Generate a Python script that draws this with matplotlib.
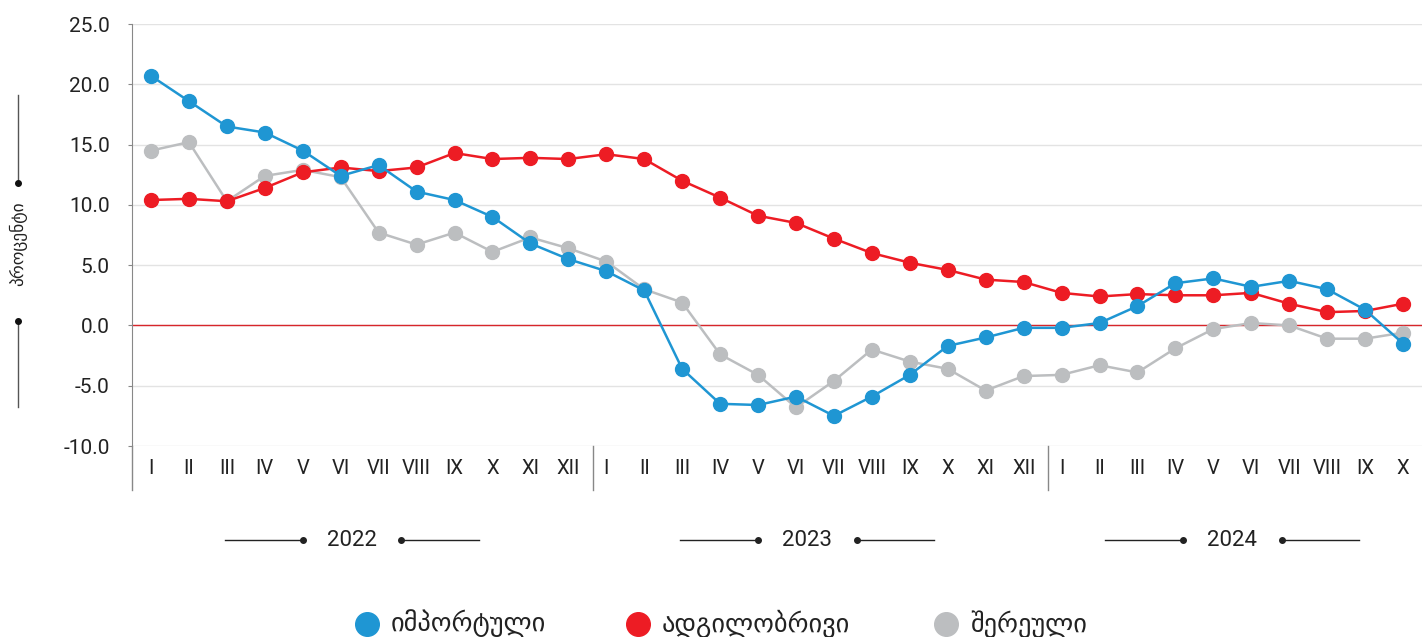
import matplotlib
matplotlib.use("Agg")
import matplotlib.pyplot as plt
from matplotlib.lines import Line2D
import matplotlib.transforms as mtransforms

plt.rcParams['font.family'] = ['Roboto', 'DejaVu Sans']

# Data
months = ["I", "II", "III", "IV", "V", "VI", "VII", "VIII", "IX", "X", "XI", "XII"]
month_labels = months * 2 + months[:10]
years = ["2022", "2023", "2024"]

imported = [20.7, 18.6, 16.5, 16.0, 14.5, 12.4, 13.3, 11.1, 10.4, 9.0, 6.8, 5.5,
            4.5, 2.9, -3.6, -6.5, -6.6, -5.9, -7.5, -5.9, -4.1, -1.7, -1.0, -0.2,
            -0.2, 0.2, 1.6, 3.5, 3.9, 3.2, 3.7, 3.0, 1.3, -1.5]
local = [10.4, 10.5, 10.3, 11.4, 12.7, 13.1, 12.8, 13.1, 14.3, 13.8, 13.9, 13.8,
         14.2, 13.8, 12.0, 10.6, 9.1, 8.5, 7.2, 6.0, 5.2, 4.6, 3.8, 3.6,
         2.7, 2.4, 2.6, 2.5, 2.5, 2.7, 1.8, 1.1, 1.2, 1.8]
mixed = [14.5, 15.2, 10.3, 12.4, 12.9, 12.3, 7.7, 6.7, 7.7, 6.1, 7.3, 6.4,
         5.3, 3.0, 1.9, -2.4, -4.1, -6.8, -4.6, -2.0, -3.0, -3.6, -5.4, -4.2,
         -4.1, -3.3, -3.9, -1.9, -0.3, 0.2, 0.0, -1.1, -1.1, -0.6]

names = ["იმპორტული", "ადგილობრივი", "შერეული"]
colors = ["#1f96d3", "#ed1c24", "#bcbec0"]

x = list(range(len(month_labels)))

W, H = 1422, 637
fig = plt.figure(figsize=(W / 100, H / 100), dpi=100)
ax = fig.add_axes([132 / W, 1 - 446 / H, 1 - 132 / W, (446 - 24) / H])

# gray first, then red, then blue on top
for series, c in [(mixed, colors[2]), (local, colors[1]), (imported, colors[0])]:
    ax.plot(x, series, color=c, lw=1.8, marker="o", ms=10, mec=c, mfc=c, zorder=3)

ax.axhline(0, color="#d7262b", lw=1, zorder=2)
ax.set_xlim(-0.5, len(x) - 0.5)
ax.set_ylim(-10, 25)
yt = [25, 20, 15, 10, 5, 0, -5, -10]
ax.set_yticks(yt)
ax.set_yticklabels([f"{v:.1f}" for v in yt])
ax.yaxis.grid(True, color="#e3e3e3", lw=1)
ax.set_axisbelow(True)
ax.tick_params(axis="y", labelsize=15, length=3, color="#888888", labelcolor="#222222", pad=13)
ax.set_xticks([])
for s in ["top", "right", "bottom"]:
    ax.spines[s].set_visible(False)
ax.spines["left"].set_color("#888888")

# month labels below the plot area
trans = mtransforms.blended_transform_factory(ax.transData, ax.transAxes)
band = 44 / 422
for i, lab in enumerate(month_labels):
    ax.text(i, -band / 2, lab, transform=trans, ha="center", va="center",
            fontsize=14.5, color="#222222")
ax.plot([-0.5, -0.5], [0, -band], transform=trans, color="#888888", lw=1, clip_on=False)
for sep in [11.65, 23.65]:
    ax.plot([sep, sep], [0, -band], transform=trans, color="#888888", lw=1, clip_on=False)

# year labels with decorative lines
ypos = -(540 - 446) / 422
for j, yr in enumerate(years):
    n = 12 if j < 2 else 10
    cx = j * 12 + (n - 1) / 2 - (0.2 if n == 12 else 0.0)
    ax.text(cx, ypos, yr, transform=trans, ha="center", va="center",
            fontsize=16, color="#222222")
    ax.plot([cx - 3.35, cx - 1.3], [ypos, ypos], transform=trans, color="#222222",
            lw=1, clip_on=False)
    ax.plot([cx + 1.3, cx + 3.35], [ypos, ypos], transform=trans, color="#222222",
            lw=1, clip_on=False)
    ax.plot([cx - 1.3, cx + 1.3], [ypos, ypos], transform=trans, ls="none",
            marker="o", ms=4, color="#222222", clip_on=False)

# y axis label with decorative lines
fig.text(18 / W, 1 - 244 / H, "პროცენტი", rotation=90, ha="center", va="center",
         fontsize=12.5, color="#222222")
fig.add_artist(Line2D([18 / W] * 2, [1 - 95 / H, 1 - 183 / H], color="#555555", lw=1))
fig.add_artist(Line2D([18 / W] * 2, [1 - 321 / H, 1 - 407 / H], color="#555555", lw=1))
fig.add_artist(Line2D([18 / W] * 2, [1 - 183 / H, 1 - 321 / H], ls="none",
                      marker="o", ms=4, color="#111111"))

# legend, placed by hand
leg_marker_x = [367, 638, 946]
leg_y = 1 - 624 / H
for mx, name, c in zip(leg_marker_x, names, colors):
    fig.add_artist(Line2D([mx / W], [leg_y], ls="none", marker="o", ms=17, color=c))
    fig.text((mx + 24) / W, leg_y, name, ha="left", va="center", fontsize=19,
             color="#222222")

fig.savefig("out.png", dpi=100)
